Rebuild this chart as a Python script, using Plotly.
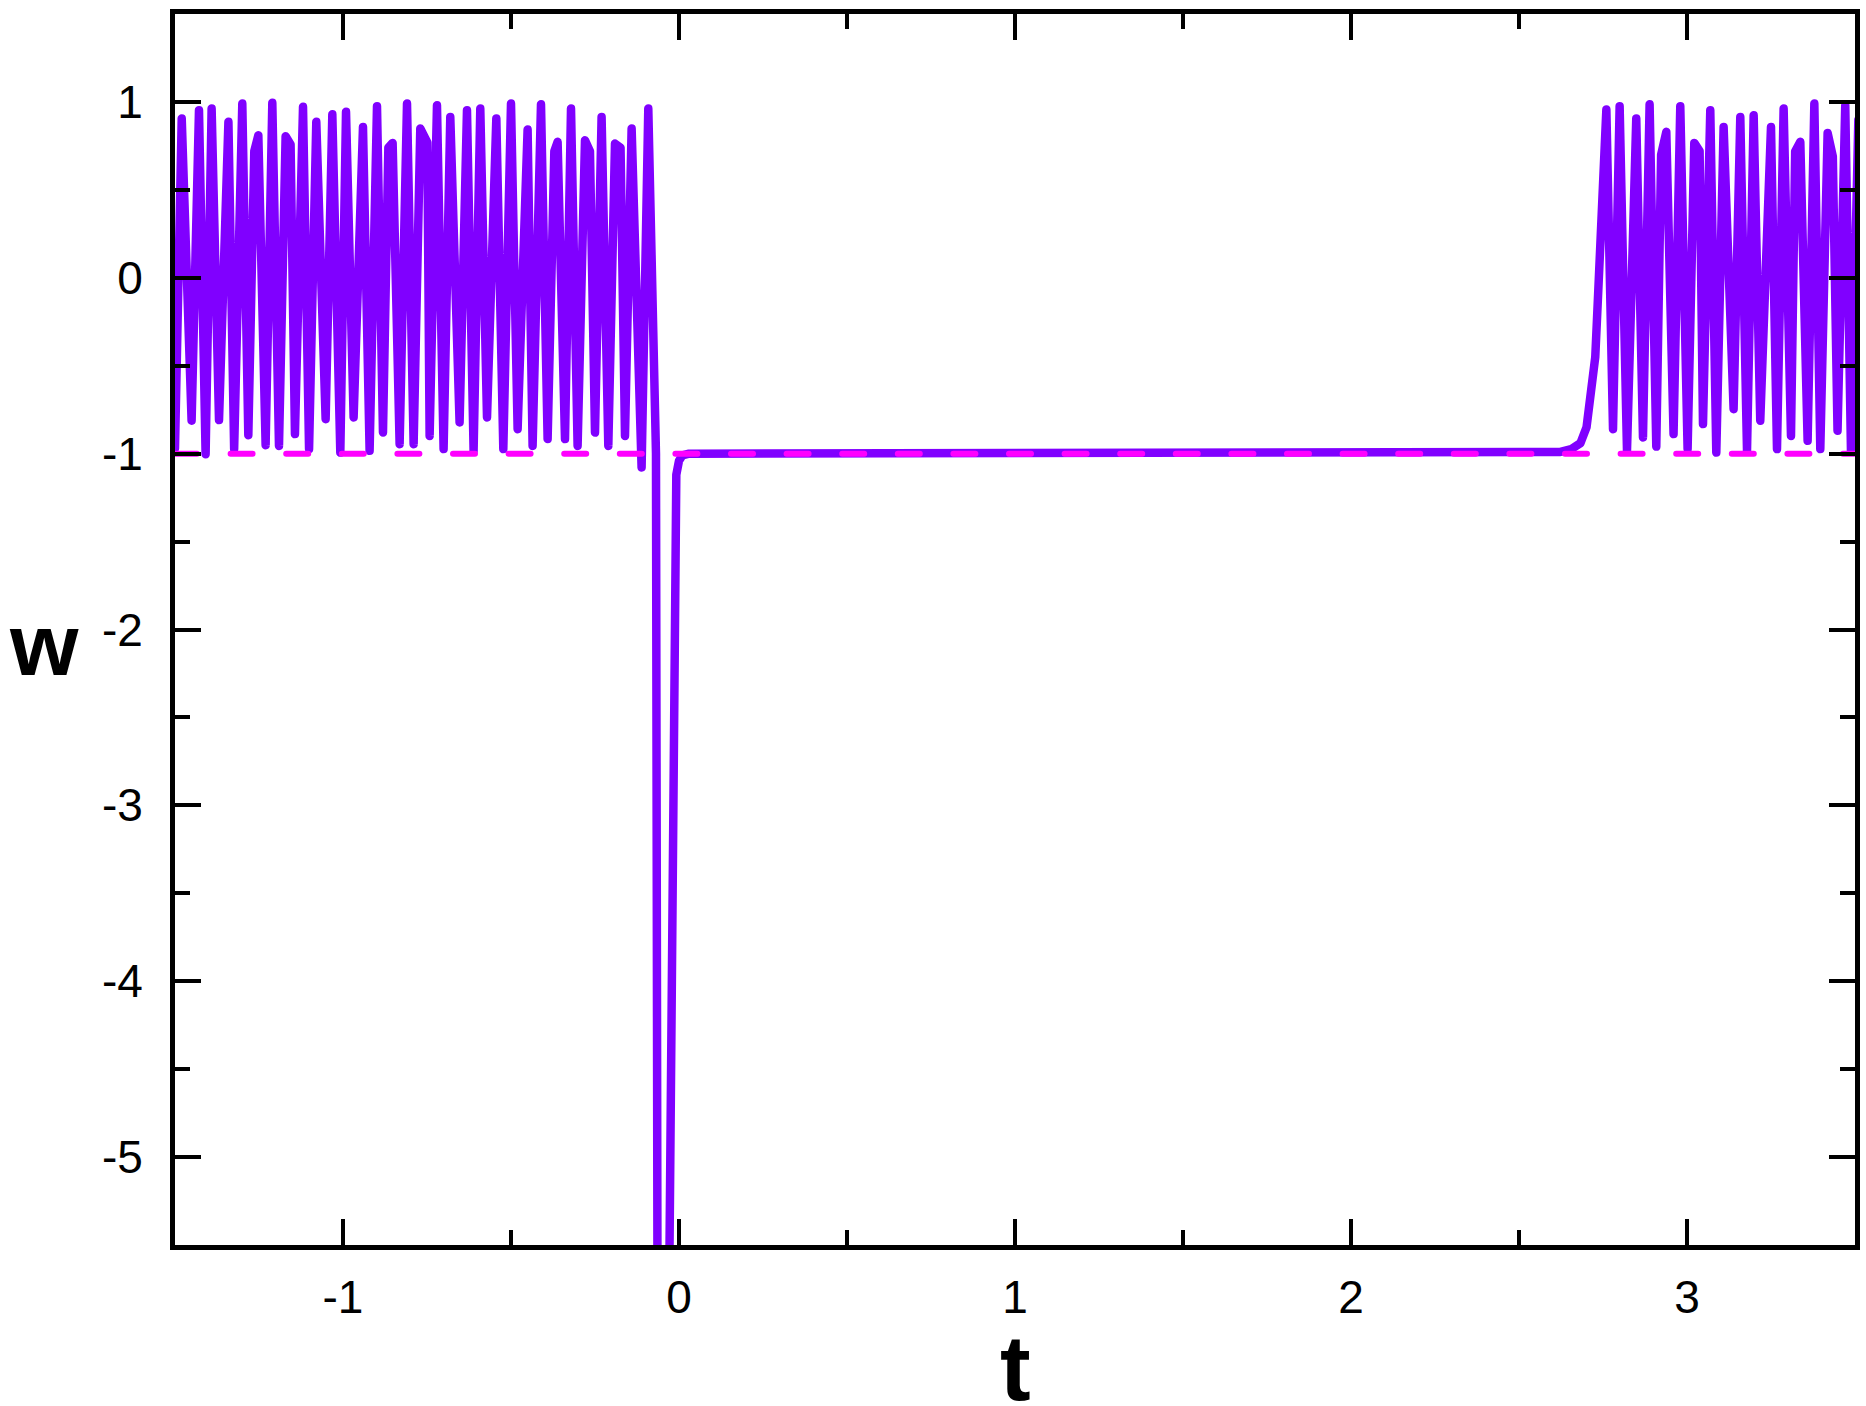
import plotly.graph_objects as go

# ---- data ----
t_vals = [
    -1.500, -1.480, -1.4506, -1.4286, -1.4089, -1.391, -1.369, -1.341, -1.324, -1.2997,
    -1.2818, -1.264, -1.252, -1.2303, -1.2104, -1.1905, -1.1708, -1.156, -1.143, -1.119,
    -1.101, -1.0795, -1.0517, -1.0318, -1.008, -0.991, -0.9684, -0.9405, -0.9208, -0.8988,
    -0.881, -0.865, -0.8523, -0.8315, -0.8095, -0.7898, -0.770, -0.749, -0.7422, -0.7203,
    -0.7006, -0.6807, -0.653, -0.631, -0.6113, -0.5914, -0.5714, -0.5437, -0.5229, -0.500,
    -0.4803, -0.459, -0.4506, -0.4357, -0.4107, -0.391, -0.371, -0.3613, -0.3393, -0.3214,
    -0.3018, -0.2798, -0.265, -0.250, -0.2304, -0.2104, -0.1905, -0.174, -0.1607, -0.141,
    -0.1113, -0.0914, -0.0685, -0.058, -0.015, -0.008, 0.000, 0.010, 0.030,
    2.550, 2.623, 2.655, 2.683, 2.701, 2.713, 2.727, 2.736, 2.748, 2.760,
    2.7798, 2.7995, 2.8214, 2.849, 2.869, 2.8887, 2.9086, 2.923, 2.9384, 2.960,
    2.980, 3.0018, 3.0217, 3.0375, 3.0476, 3.0693, 3.0872, 3.109, 3.1387, 3.1586,
    3.1786, 3.1984, 3.218, 3.250, 3.2678, 3.2876, 3.3095, 3.322, 3.3372, 3.359,
    3.379, 3.3967, 3.4185, 3.434, 3.448, 3.471, 3.488, 3.510,
]
w_vals = [
    -0.97, 0.906, -0.813, 0.953, -1.003, 0.962, -0.809, 0.887, -0.974, 0.991,
    -0.895, 0.72, 0.81, -0.952, 0.995, -0.956, 0.805, 0.758, -0.889, 0.972,
    -0.974, 0.887, -0.804, 0.93, -0.994, 0.944, -0.794, 0.858, -0.984, 0.976,
    -0.88, 0.74, 0.767, -0.946, 0.991, -0.946, 0.849, 0.77, -0.899, 0.981,
    -0.974, 0.915, -0.823, 0.953, -0.984, 0.962, -0.794, 0.906, -0.974, 0.991,
    -0.861, 0.69, 0.843, -0.956, 0.987, -0.917, 0.72, 0.773, -0.917, 0.962,
    -0.956, 0.782, 0.72, -0.88, 0.915, -0.956, 0.763, 0.74, -0.899, 0.849,
    -1.079, 0.962, -1.0, -12.0, -1.32, -1.12, -1.04, -1.01, -1.0,
    -1.0, -0.99, -0.975, -0.94, -0.85, -0.69, -0.45, -0.07, 0.5, 0.957,
    -0.861, 0.976, -0.984, 0.906, -0.908, 0.987, -0.96, 0.70, 0.83, -0.889,
    0.976, -0.974, 0.767, 0.72, -0.832, 0.953, -0.994, 0.858, -0.747, 0.915,
    -0.984, 0.924, -0.813, 0.858, -0.974, 0.962, -0.899, 0.72, 0.773, -0.927,
    0.991, -0.974, 0.824, 0.69, -0.87, 0.981, -0.984, 0.90,
]
t_ref = [-1.5, 3.5]
w_ref = [-1.0, -1.0]

x_ticks = [-1, 0, 1, 2, 3]
x_ticktext = ["-1", "0", "1", "2", "3"]
y_ticks = [-5, -4, -3, -2, -1, 0, 1]
y_ticktext = ["-5", "-4", "-3", "-2", "-1", "0", "1"]
x_range = [-1.5, 3.5]
y_range = [-5.5, 1.5]

PURPLE = "#8000FF"
MAGENTA = "#FF00FF"
FONT = "Liberation Sans, Arial, sans-serif"

fig = go.Figure()
fig.add_trace(go.Scatter(x=t_vals, y=w_vals, mode="lines",
                         line=dict(color=PURPLE, width=8.5), showlegend=False))
fig.add_trace(go.Scatter(x=t_ref, y=w_ref, mode="lines",
                         line=dict(color=MAGENTA, width=6, dash="22px,33.6px"),
                         showlegend=False))

axis_common = dict(
    showline=True, linecolor="black", linewidth=5, mirror="ticks",
    ticks="inside", ticklen=26, tickwidth=4, tickcolor="black",
    showgrid=False, zeroline=False, automargin=False,
    tickfont=dict(family=FONT, size=46, color="black"),
    minor=dict(ticks="inside", ticklen=15, tickwidth=4, tickcolor="black", dtick=0.5, showgrid=False),
)
fig.update_xaxes(range=x_range, tickvals=x_ticks, ticktext=x_ticktext,
                 ticklabelstandoff=8, **axis_common)
fig.update_yaxes(range=y_range, tickvals=y_ticks, ticktext=y_ticktext,
                 ticklabelstandoff=18, **axis_common)

fig.add_annotation(text="<b>t</b>", xref="paper", yref="paper", x=0.5, y=-0.1002,
                   xanchor="center", yanchor="middle", showarrow=False,
                   font=dict(family=FONT, size=92, color="black"))
fig.add_annotation(text="<b>w</b>", xref="paper", yref="paper", x=-0.078, y=0.488,
                   xanchor="center", yanchor="middle", showarrow=False,
                   font=dict(family=FONT, size=88, color="black"))

fig.update_layout(
    template="none",
    width=1866, height=1406,
    margin=dict(l=175, r=11, t=14, b=161),
    plot_bgcolor="white", paper_bgcolor="white",
)

post = ("document.body.style.margin='0';document.body.style.padding='0';"
        "document.querySelectorAll('path.js-line').forEach(function(p){"
        "p.style.strokeLinejoin='round';p.style.strokeLinecap='round';});")
fig.write_html("out.html", post_script=post, config={"displayModeBar": False})
